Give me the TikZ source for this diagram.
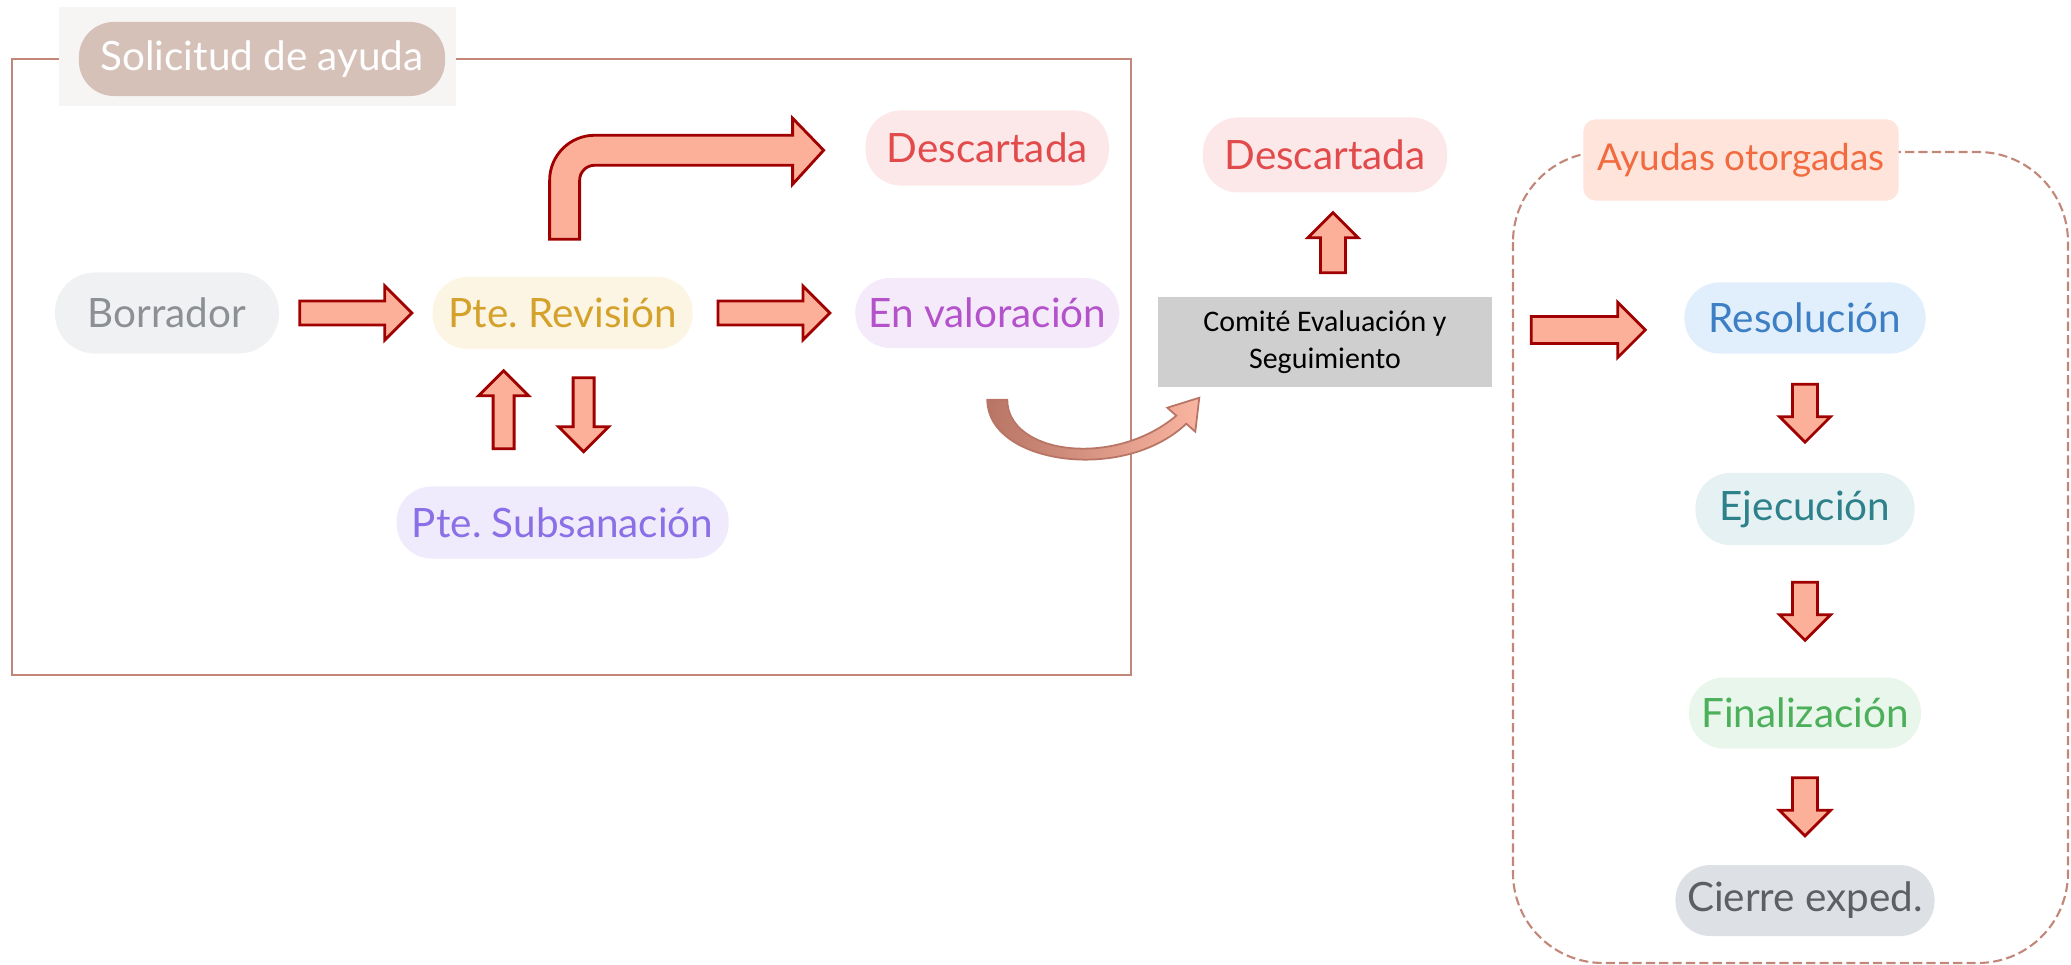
\documentclass[tikz,border=0pt]{standalone}
\usepackage{fontspec}
\setmainfont{Lato}
\newfontfamily\comitefont{Carlito}
\usepackage{xcolor}
\usetikzlibrary{positioning,calc}

\definecolor{framebrown}{HTML}{C3877A}
\definecolor{labelbg}{HTML}{F7F5F3}
\definecolor{solfill}{HTML}{D5C1B8}
\definecolor{arrowfill}{HTML}{FCB09A}
\definecolor{arrowred}{HTML}{A00000}
\definecolor{curvedark}{HTML}{B87565}
\definecolor{curvelight}{HTML}{F9B5A0}
\definecolor{borrfill}{HTML}{F0F1F3}
\definecolor{borrtext}{HTML}{8C8F94}
\definecolor{revfill}{HTML}{FDF5E3}
\definecolor{revtext}{HTML}{D4A12B}
\definecolor{descfill}{HTML}{FCE8E8}
\definecolor{desctext}{HTML}{E24B4B}
\definecolor{valfill}{HTML}{F5EAF9}
\definecolor{valtext}{HTML}{B452CC}
\definecolor{subsfill}{HTML}{EFEBFC}
\definecolor{substext}{HTML}{8B6FE6}
\definecolor{comitefill}{HTML}{D0CFCF}
\definecolor{ayudfill}{HTML}{FEE4DA}
\definecolor{ayudtext}{HTML}{F26A3F}
\definecolor{resolfill}{HTML}{E1EEFC}
\definecolor{resoltext}{HTML}{3D7FC4}
\definecolor{ejecfill}{HTML}{E5F1F2}
\definecolor{ejectext}{HTML}{2C818A}
\definecolor{finfill}{HTML}{E9F6EB}
\definecolor{fintext}{HTML}{4CAF5A}
\definecolor{cierrefill}{HTML}{DDE0E5}
\definecolor{cierretext}{HTML}{5C5F63}

\begin{document}
\begin{tikzpicture}[
    x=0.01cm, y=-0.01cm,
    pill/.style={rounded corners=0.35cm,minimum height=0.72cm,inner sep=0pt,font=\fontsize{11.5}{13}\selectfont},
    fatshape/.style={draw=arrowred,fill=arrowfill,line width=0.8pt},
    pics/fatarr/.style n args={3}{code={
      \draw[fatshape] ({-#1/2},{-#2}) -- ({#1/2-#3},{-#2}) -- ({#1/2-#3},{-#3}) -- ({#1/2},0)
        -- ({#1/2-#3},{#3}) -- ({#1/2-#3},{#2}) -- ({-#1/2},{#2}) -- cycle;
    }},
    node distance=2mm
  ]
    \useasboundingbox (0,0) rectangle (2071,965);

    \draw[framebrown,line width=0.6pt] (12,59) rectangle (1131,675);
    \draw[framebrown,line width=0.6pt,dash pattern=on 2.6pt off 1.2pt,rounded corners=0.9cm]
      (1513,152) rectangle (2068,963);

    \fill[labelbg] (59,7) rectangle (456,106);
    \node[pill,fill=solfill,text=white,minimum width=3.66cm,minimum height=0.74cm] (sol) at (262,59) {Solicitud de ayuda};

    \node[pill,fill=borrfill,text=borrtext,minimum width=2.24cm,minimum height=0.81cm,rounded corners=0.4cm] (borr) at (167,313) {Borrador};
    \node[pill,fill=revfill,text=revtext,minimum width=2.60cm,right=1.52cm of borr] (rev) {Pte.\ Revisión};
    \node[pill,fill=valfill,text=valtext,minimum width=2.64cm,minimum height=0.70cm,right=1.61cm of rev] (valor) {En valoración};
    \node[pill,fill=descfill,text=desctext,minimum width=2.43cm,minimum height=0.75cm,above=0.91cm of valor] (descl) {Descartada};
    \node[pill,fill=subsfill,text=substext,minimum width=3.32cm,below=1.36cm of rev] (subs) {Pte.\ Subsanación};

    \pic at ($(borr.east)!0.5!(rev.west)$) {fatarr={112}{12}{27}};
    \pic at ($(rev.east)!0.5!(valor.west)$) {fatarr={112}{12}{27}};
    \pic[rotate=90] at ($(rev.south)!0.5!(subs.north)+(-59,-8)$) {fatarr={78}{10.5}{25}};
    \pic[rotate=-90] at ($(rev.south)!0.5!(subs.north)+(21,-3)$) {fatarr={74}{10.5}{25}};
    \draw[fatshape] ($(rev.north)+(-13,-37)$) [rounded corners=0.45cm] -- ++(0,-104)
      [sharp corners] -- ++(243,0) -- ++(0,-17) -- ++(31,32) -- ++(-31,34) -- ++(0,-19)
      [rounded corners=0.15cm] -- ++(-213,0) [sharp corners] -- ++(0,74) -- cycle;

    \node[draw=none,fill=comitefill,minimum width=3.34cm,minimum height=0.90cm,align=center,
      font=\comitefont\fontsize{8.5}{10.4}\selectfont] (comite) at (1325,342) {Comité Evaluación y\\Seguimiento};
    \node[pill,fill=descfill,text=desctext,minimum width=2.44cm,minimum height=0.75cm,above=1.03cm of comite] (descm) {Descartada};
    \pic[rotate=90] at ($(comite.north)!0.5!(descm.south)+(8,-2)$) {fatarr={60}{12.5}{25}};

    \coordinate (cstart) at ($(valor.south)+(0,51)$);
    \begin{scope}[shift={(cstart)}]
      \path[draw=curvedark,line width=0.5pt,left color=curvedark,right color=curvelight]
        (0,0) .. controls (0,64) and (136,84) .. (199,24) -- (208,32) -- (212,-2) -- (180,8)
        -- (189,16) .. controls (126,69) and (20,54) .. (20,0) -- cycle;
    \end{scope}

    \node[pill,fill=ayudfill,text=ayudtext,minimum width=3.15cm,minimum height=0.81cm,rounded corners=0.12cm,
      font=\fontsize{10.5}{12}\selectfont] (ayud) at (1741,160) {Ayudas otorgadas};
    \node[pill,fill=resolfill,text=resoltext,minimum width=2.41cm,minimum height=0.71cm] (resol) at (1805,318) {Resolución};
    \node[pill,fill=ejecfill,text=ejectext,minimum width=2.19cm,below=1.18cm of resol] (ejec) {Ejecución};
    \node[pill,fill=finfill,text=fintext,minimum width=2.32cm,minimum height=0.71cm,below=1.31cm of ejec] (fin) {Finalización};
    \node[pill,fill=cierrefill,text=cierretext,minimum width=2.59cm,minimum height=0.71cm,below=1.15cm of fin] (cierre) {Cierre exped.};

    \pic at ($(comite.east)!0.5!(resol.west)$) {fatarr={114}{13.5}{27.5}};
    \pic[rotate=-90] at ($(resol.south)!0.5!(ejec.north)$) {fatarr={58}{12.5}{25.5}};
    \pic[rotate=-90] at ($(ejec.south)!0.5!(fin.north)$) {fatarr={58}{12.5}{25.5}};
    \pic[rotate=-90] at ($(fin.south)!0.5!(cierre.north)$) {fatarr={58}{12.5}{25.5}};
  \end{tikzpicture}
\end{document}
